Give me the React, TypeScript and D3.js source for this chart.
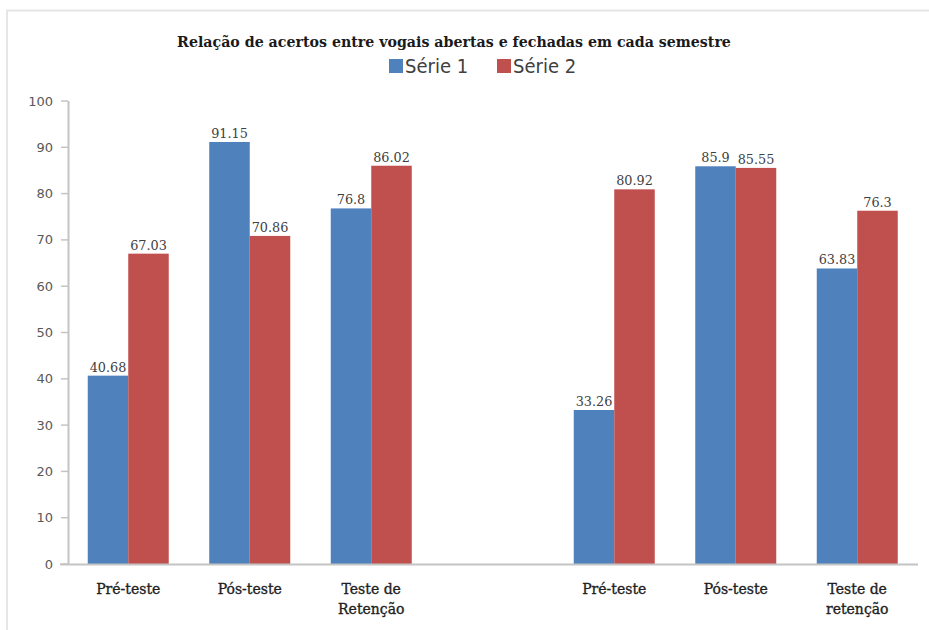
import React from "react";
import * as d3 from "d3";

// Categories along the x axis; the empty slot separates the two semesters.
const categories: string[] = [
  "Pré-teste",
  "Pós-teste",
  "Teste de\nRetenção",
  "",
  "Pré-teste ",
  "Pós-teste ",
  "Teste de\nretenção",
];
const serie1: (number | null)[] = [40.68, 91.15, 76.8, null, 33.26, 85.9, 63.83];
const serie2: (number | null)[] = [67.03, 70.86, 86.02, null, 80.92, 85.55, 76.3];
const seriesNames: string[] = ["Série 1", "Série 2"];
const seriesColors: string[] = ["#4F81BD", "#C0504D"];
const yTicks: number[] = [0, 10, 20, 30, 40, 50, 60, 70, 80, 90, 100];
const title = "Relação de acertos entre vogais abertas e fechadas em cada semestre";

const W = 929;
const H = 630;
const plot = { left: 67.5, right: 918, top: 101, bottom: 564 };

export default function App() {
  const x = d3
    .scaleBand<number>()
    .domain(categories.map((_, i) => i))
    .range([plot.left, plot.right])
    .paddingInner(0)
    .paddingOuter(0);
  const y = d3.scaleLinear().domain([0, 100]).range([plot.bottom, plot.top]);
  const bw = x.bandwidth();
  const barW = bw / 3;
  const inner = d3
    .scaleBand<number>()
    .domain([0, 1])
    .range([bw / 6, bw - bw / 6]);

  const series = [serie1, serie2];
  const serif = "'DejaVu Serif', serif";
  const sans = "'DejaVu Sans', Verdana, sans-serif";

  return (
    <svg
      width={W}
      height={H}
      style={{ position: "absolute", left: 0, top: 0, background: "#fff" }}
    >
      {/* chart frame */}
      <rect x={7} y={10.5} width={W + 10} height={H + 10} fill="none" stroke="#e6e6e6" strokeWidth={2} />

      <text
        x={454}
        y={47}
        textAnchor="middle"
        fontFamily={serif}
        fontWeight="bold"
        fontSize={14.2}
        fill="#1a1a1a"
      >
        {title}
      </text>

      {/* legend */}
      {seriesNames.map((name, i) => {
        const lx = 389 + i * 108;
        return (
          <g key={name}>
            <rect x={lx} y={59} width={14} height={14} fill={seriesColors[i]} />
            <text
              x={lx + 16}
              y={73}
              fontFamily="'Liberation Sans Narrow', 'DejaVu Sans Condensed', sans-serif"
              fontSize={20}
              fill="#404040"
            >
              {name}
            </text>
          </g>
        );
      })}

      {/* y axis */}
      <line x1={68.5} x2={68.5} y1={y(100)} y2={y(0)} stroke="#c4c4c4" strokeWidth={2} />
      {yTicks.map((t) => (
        <g key={t}>
          <line x1={61} x2={68} y1={y(t)} y2={y(t)} stroke="#c4c4c4" strokeWidth={1.5} />
          <text
            x={53}
            y={y(t) + 4.5}
            textAnchor="end"
            fontFamily={sans}
            fontSize={13}
            fill="#595959"
          >
            {t}
          </text>
        </g>
      ))}

      {/* bars */}
      {categories.map((_, ci) =>
        series.map((s, si) => {
          const v = s[ci];
          if (v == null) return null;
          const bx = (x(ci) as number) + (inner(si) as number);
          return (
            <g key={`${ci}-${si}`}>
              <rect
                x={bx}
                y={y(v)}
                width={barW}
                height={y(0) - y(v)}
                fill={seriesColors[si]}
              />
              <text
                x={bx + barW / 2}
                y={y(v) - 4}
                textAnchor="middle"
                fontFamily={serif}
                fontSize={12.8}
                fill="#404040"
              >
                {String(v)}
              </text>
            </g>
          );
        })
      )}

      {/* x axis */}
      <line x1={60} x2={918} y1={plot.bottom + 0.5} y2={plot.bottom + 0.5} stroke="#c4c4c4" strokeWidth={2} />
      {categories.map((c, ci) => {
        const cx = (x(ci) as number) + bw / 2;
        return c
          .trim()
          .split("\n")
          .filter((l) => l.length > 0)
          .map((line, li) => (
            <text
              key={`${ci}-${li}`}
              x={cx}
              y={594 + li * 20}
              textAnchor="middle"
              fontFamily={serif}
              fontSize={14}
              fill="#1f1f1f"
              stroke="#1f1f1f"
              strokeWidth={0.35}
            >
              {line}
            </text>
          ));
      })}
    </svg>
  );
}
